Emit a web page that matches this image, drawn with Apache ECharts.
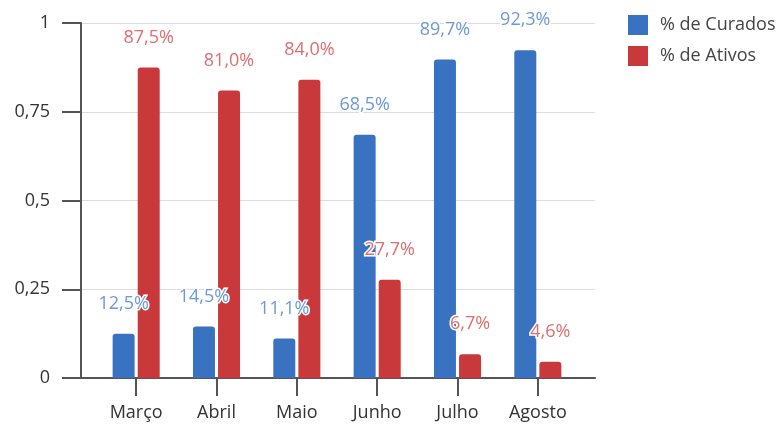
<!DOCTYPE html>
<html>
<head>
<meta charset="utf-8">
<script src="https://cdn.jsdelivr.net/npm/echarts@6/dist/echarts.min.js"></script>
<style>html,body{margin:0;padding:0;background:#fff}#c{width:784px;height:432px}</style>
</head>
<body>
<div id="c"></div>
<script>
const categories = ['Março', 'Abril', 'Maio', 'Junho', 'Julho', 'Agosto'];
const curados = [0.125, 0.145, 0.111, 0.685, 0.897, 0.923];
const ativos = [0.875, 0.810, 0.840, 0.277, 0.067, 0.046];
const seriesNames = ['% de Curados', '% de Ativos'];

const fmtNum = v => String(v).replace('.', ',');
const fmtPct = p => (p.value * 100).toFixed(1).replace('.', ',') + '%';
const FONT = '"Open Sans", sans-serif';

const chart = echarts.init(document.getElementById('c'), null, {renderer: 'canvas'});
chart.setOption({
  animation: false,
  backgroundColor: '#fff',
  textStyle: {fontFamily: FONT},
  legend: {
    orient: 'vertical', left: 623, top: 10,
    itemWidth: 20, itemHeight: 20, itemGap: 11,
    icon: 'rect',
    textStyle: {fontSize: 18, color: '#444', fontFamily: FONT, padding: [0, 0, 0, 7]},
    data: seriesNames
  },
  grid: [
    {left: 96, right: 206, top: 23, bottom: 54},
    {left: 81, right: 189, top: 23, bottom: 54}
  ],
  xAxis: [
    {type: 'category', gridIndex: 0, data: categories,
     axisLine: {show: false},
     axisTick: {show: true, alignWithLabel: true, length: 18, lineStyle: {color: '#555', width: 2}},
     axisLabel: {margin: 26, fontSize: 18, color: '#333', fontFamily: FONT},
     splitLine: {show: false}},
    {type: 'value', gridIndex: 1, min: 0, max: 1,
     axisLine: {show: true, onZero: false, lineStyle: {color: '#555', width: 2}},
     axisTick: {show: false}, axisLabel: {show: false}, splitLine: {show: false}}
  ],
  yAxis: [
    {type: 'value', gridIndex: 0, min: 0, max: 1, show: false},
    {type: 'value', gridIndex: 1, min: 0, max: 1, interval: 0.25,
     axisLine: {show: true, lineStyle: {color: '#555', width: 2}},
     axisTick: {show: true, length: 19, lineStyle: {color: '#555', width: 2}},
     axisLabel: {margin: 31, fontSize: 18, color: '#333', fontFamily: FONT, formatter: fmtNum},
     splitLine: {show: true, lineStyle: {color: '#dcdcdc', width: 1}}}
  ],
  series: [
    {name: seriesNames[0], type: 'bar', xAxisIndex: 0, yAxisIndex: 0, data: curados,
     barWidth: 22, barGap: '14%',
     itemStyle: {color: '#3a72c2', borderRadius: [3, 3, 0, 0]},
     label: {show: true, position: 'top', distance: 21, formatter: fmtPct,
             fontSize: 18, color: '#6b9ad6', fontFamily: FONT,
             textBorderColor: '#fff', textBorderWidth: 3}},
    {name: seriesNames[1], type: 'bar', xAxisIndex: 0, yAxisIndex: 0, data: ativos,
     barWidth: 22, barGap: '14%',
     itemStyle: {color: '#c9393b', borderRadius: [3, 3, 0, 0]},
     label: {show: true, position: 'top', distance: 21, formatter: fmtPct,
             fontSize: 18, color: '#e06e6e', fontFamily: FONT,
             textBorderColor: '#fff', textBorderWidth: 3}}
  ]
});
</script>
</body>
</html>
